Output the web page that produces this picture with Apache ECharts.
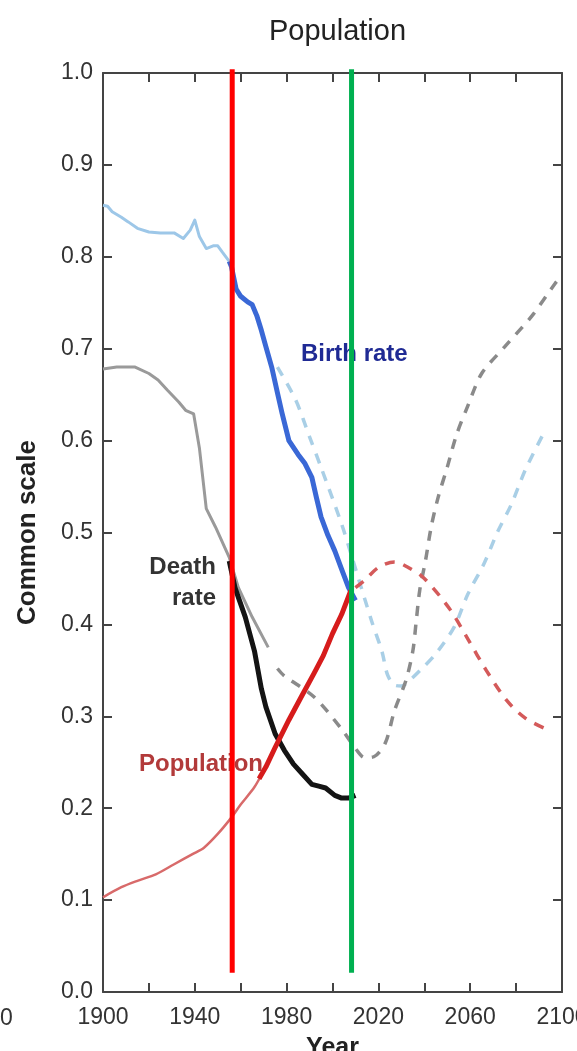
<!DOCTYPE html>
<html>
<head>
<meta charset="utf-8">
<script src="https://cdn.jsdelivr.net/npm/echarts@6/dist/echarts.min.js"></script>
<style>
  html, body { margin: 0; padding: 0; background: #ffffff; }
  #chart { width: 577px; height: 1051px; }
</style>
</head>
<body>
<div id="chart"></div>
<script>
// Birth rate, death rate and population on a common 0–1 scale, 1900–2100.
const FONT = 'Liberation Sans, Arial, sans-serif';

// Birth rate: early record, recent record, projection
const birthEarlyYears = [1900, 1902, 1904, 1908, 1911, 1915, 1920, 1925, 1931, 1935, 1938, 1940, 1942, 1945, 1948, 1950, 1952, 1955];
const birthEarlyVals  = [0.856, 0.855, 0.849, 0.843, 0.838, 0.831, 0.827, 0.826, 0.826, 0.820, 0.829, 0.840, 0.822, 0.809, 0.812, 0.812, 0.805, 0.795];
const birthRecentYears = [1955, 1956, 1958, 1960, 1963, 1965, 1967, 1969, 1971, 1973.5, 1976, 1978, 1981, 1985, 1988, 1991, 1993, 1995, 1998, 2001, 2004, 2007, 2010];
const birthRecentVals  = [0.795, 0.789, 0.765, 0.757, 0.751, 0.748, 0.736, 0.720, 0.702, 0.680, 0.652, 0.630, 0.600, 0.585, 0.575, 0.560, 0.538, 0.517, 0.497, 0.480, 0.460, 0.440, 0.426];
const birthProjYears = [1976, 1984, 1990, 1995, 2004, 2008, 2017, 2021.5, 2024, 2027, 2030, 2034, 2039, 2045, 2053, 2059, 2066, 2072, 2078, 2084, 2092];
const birthProjVals  = [0.680, 0.644, 0.604, 0.571, 0.509, 0.477, 0.404, 0.371, 0.345, 0.334, 0.333, 0.340, 0.352, 0.368, 0.397, 0.433, 0.466, 0.501, 0.531, 0.568, 0.608];

// Death rate: early record, recent record, projection
const deathEarlyYears = [1900, 1906, 1914, 1920, 1924, 1928, 1933, 1936, 1939.5, 1942, 1945, 1949, 1955, 1959, 1965, 1972];
const deathEarlyVals  = [0.678, 0.680, 0.680, 0.673, 0.666, 0.655, 0.642, 0.633, 0.629, 0.592, 0.526, 0.506, 0.473, 0.440, 0.408, 0.375];
const deathRecentYears = [1955, 1957.5, 1962, 1966, 1969, 1971, 1975, 1979, 1983, 1987, 1991, 1994, 1997, 2001, 2004, 2007, 2010];
const deathRecentVals  = [0.469, 0.440, 0.408, 0.371, 0.330, 0.310, 0.281, 0.263, 0.248, 0.237, 0.226, 0.224, 0.222, 0.214, 0.211, 0.211, 0.214];
const deathProjYears = [1976, 1979, 1992, 2004, 2010, 2014, 2018, 2023, 2027, 2032, 2035, 2036.5, 2038, 2040.5, 2043, 2046, 2050, 2054, 2059, 2065, 2075, 2087, 2097, 2100];
const deathProjVals  = [0.352, 0.344, 0.321, 0.286, 0.265, 0.255, 0.256, 0.271, 0.306, 0.339, 0.371, 0.404, 0.437, 0.469, 0.506, 0.538, 0.571, 0.606, 0.638, 0.673, 0.702, 0.736, 0.771, 0.780];

// Population: early growth, recent growth, projection
const popEarlyYears = [1900, 1908, 1915, 1923, 1931, 1939, 1944, 1950, 1956, 1960, 1966, 1970];
const popEarlyVals  = [0.103, 0.114, 0.121, 0.128, 0.139, 0.150, 0.157, 0.172, 0.190, 0.204, 0.223, 0.241];
const popRecentYears = [1968, 1971, 1975, 1981, 1987, 1992, 1996, 2000, 2004, 2008];
const popRecentVals  = [0.232, 0.245, 0.266, 0.296, 0.324, 0.347, 0.366, 0.390, 0.411, 0.437];
const popProjYears = [2010, 2014, 2020, 2027, 2033, 2040, 2051, 2059, 2067, 2076, 2084, 2094];
const popProjVals  = [0.440, 0.448, 0.462, 0.468, 0.462, 0.450, 0.417, 0.384, 0.350, 0.317, 0.298, 0.285];

// Reference years marked with vertical bars
const markYears = [1956.3, 2008.3];
const markColors = ['#ff0000', '#00b050'];
const markSpan = [0.021, 1.004];

// Axis ticks
const xTicks = { min: 1900, max: 2100, step: 20, labelStep: 40 };
const yTicks = { min: 0, max: 1, step: 0.1 };

const pairs = (xs, ys) => xs.map((x, i) => [x, ys[i]]);

function lineSeries(name, xs, ys, color, width, dashed, smooth) {
  return {
    name: name,
    type: 'line',
    data: pairs(xs, ys),
    showSymbol: false,
    symbol: 'none',
    smooth: smooth || false,
    silent: true,
    lineStyle: {
      color: color,
      width: width,
      type: dashed ? [10, 9] : 'solid',
      cap: 'butt',
      join: 'round'
    },
    z: 3
  };
}

// Vertical bar at a given year, drawn as a two-point line through the value scales
function yearBar(yr, color) {
  return {
    name: 'Year ' + yr,
    type: 'line',
    data: [[yr, markSpan[0]], [yr, markSpan[1]]],
    showSymbol: false,
    symbol: 'none',
    clip: false,
    silent: true,
    lineStyle: { color: color, width: 5, type: 'solid', cap: 'butt' },
    z: 10
  };
}

const frameLine = { show: true, onZero: false, lineStyle: { color: '#444', width: 2 } };
const frameTick = { show: true, inside: true, length: 9, lineStyle: { color: '#444', width: 2 } };

const chart = echarts.init(document.getElementById('chart'), null, { renderer: 'canvas' });

const option = {
  backgroundColor: '#ffffff',
  animation: false,
  title: {
    text: 'Population',
    left: 264,
    top: 12,
    textStyle: { fontFamily: FONT, fontSize: 29, fontWeight: 'normal', color: '#222' }
  },
  grid: { left: 103, top: 73, width: 459, height: 919, containLabel: false, outerBoundsMode: 'none' },
  xAxis: [
    {
      type: 'value', position: 'bottom',
      min: xTicks.min, max: xTicks.max, interval: xTicks.step,
      axisLine: frameLine, axisTick: frameTick,
      splitLine: { show: false },
      axisLabel: {
        margin: 14, fontSize: 23, color: '#333', fontFamily: FONT,
        formatter: v => ((v - xTicks.min) % xTicks.labelStep === 0 ? String(v) : '')
      },
      name: 'Year', nameLocation: 'middle', nameGap: 44,
      nameTextStyle: { fontFamily: FONT, fontSize: 25, fontWeight: 'bold', color: '#222' }
    },
    {
      type: 'value', position: 'top',
      min: xTicks.min, max: xTicks.max, interval: xTicks.step,
      axisLine: frameLine, axisTick: frameTick,
      splitLine: { show: false }, axisLabel: { show: false }
    }
  ],
  yAxis: [
    {
      type: 'value', position: 'left',
      min: yTicks.min, max: yTicks.max, interval: yTicks.step,
      axisLine: frameLine, axisTick: frameTick,
      splitLine: { show: false },
      axisLabel: {
        margin: 10, fontSize: 23, color: '#333', fontFamily: FONT,
        formatter: v => v.toFixed(1)
      },
      name: 'Common scale', nameLocation: 'middle', nameGap: 62, nameRotate: 90,
      nameTextStyle: { fontFamily: FONT, fontSize: 26, fontWeight: 'bold', color: '#222' }
    },
    {
      type: 'value', position: 'right',
      min: yTicks.min, max: yTicks.max, interval: yTicks.step,
      axisLine: frameLine, axisTick: frameTick,
      splitLine: { show: false }, axisLabel: { show: false }
    }
  ],
  series: [
    lineSeries('Birth rate (early)', birthEarlyYears, birthEarlyVals, '#9dc7e8', 3),
    lineSeries('Death rate (early)', deathEarlyYears, deathEarlyVals, '#9a9a9a', 3),
    lineSeries('Population (early)', popEarlyYears, popEarlyVals, '#d86a6a', 2.5, false, 0.3),
    lineSeries('Birth rate (projection)', birthProjYears, birthProjVals, '#a9cfe6', 3.5, true, 0.3),
    lineSeries('Death rate (projection)', deathProjYears, deathProjVals, '#8a8a8a', 3.5, true, 0.3),
    lineSeries('Population (projection)', popProjYears, popProjVals, '#d45a5a', 3.5, true, 0.3),
    lineSeries('Birth rate', birthRecentYears, birthRecentVals, '#3a68d6', 5),
    lineSeries('Death rate', deathRecentYears, deathRecentVals, '#141414', 5),
    lineSeries('Population', popRecentYears, popRecentVals, '#d61c1c', 5),
    yearBar(markYears[0], markColors[0]),
    yearBar(markYears[1], markColors[1])
  ],
  graphic: [
    {
      type: 'text', x: 301, y: 342, z: 1, silent: true,
      style: { text: 'Birth rate', fill: '#1f2a94', fontFamily: FONT, fontSize: 24, fontWeight: 'bold', verticalAlign: 'top' }
    },
    {
      type: 'text', x: 216, y: 555, z: 1, silent: true,
      style: { text: 'Death', fill: '#333333', fontFamily: FONT, fontSize: 24, fontWeight: 'bold', align: 'right', verticalAlign: 'top' }
    },
    {
      type: 'text', x: 216, y: 586, z: 1, silent: true,
      style: { text: 'rate', fill: '#333333', fontFamily: FONT, fontSize: 24, fontWeight: 'bold', align: 'right', verticalAlign: 'top' }
    },
    {
      type: 'text', x: 139, y: 752, z: 1, silent: true,
      style: { text: 'Population', fill: '#b23a3a', fontFamily: FONT, fontSize: 24, fontWeight: 'bold', verticalAlign: 'top' }
    },
    {
      type: 'text', x: 0, y: 1007, z: 1, silent: true,
      style: { text: '0', fill: '#333333', fontFamily: FONT, fontSize: 23, verticalAlign: 'top' }
    }
  ]
};

chart.setOption(option);
</script>
</body>
</html>
